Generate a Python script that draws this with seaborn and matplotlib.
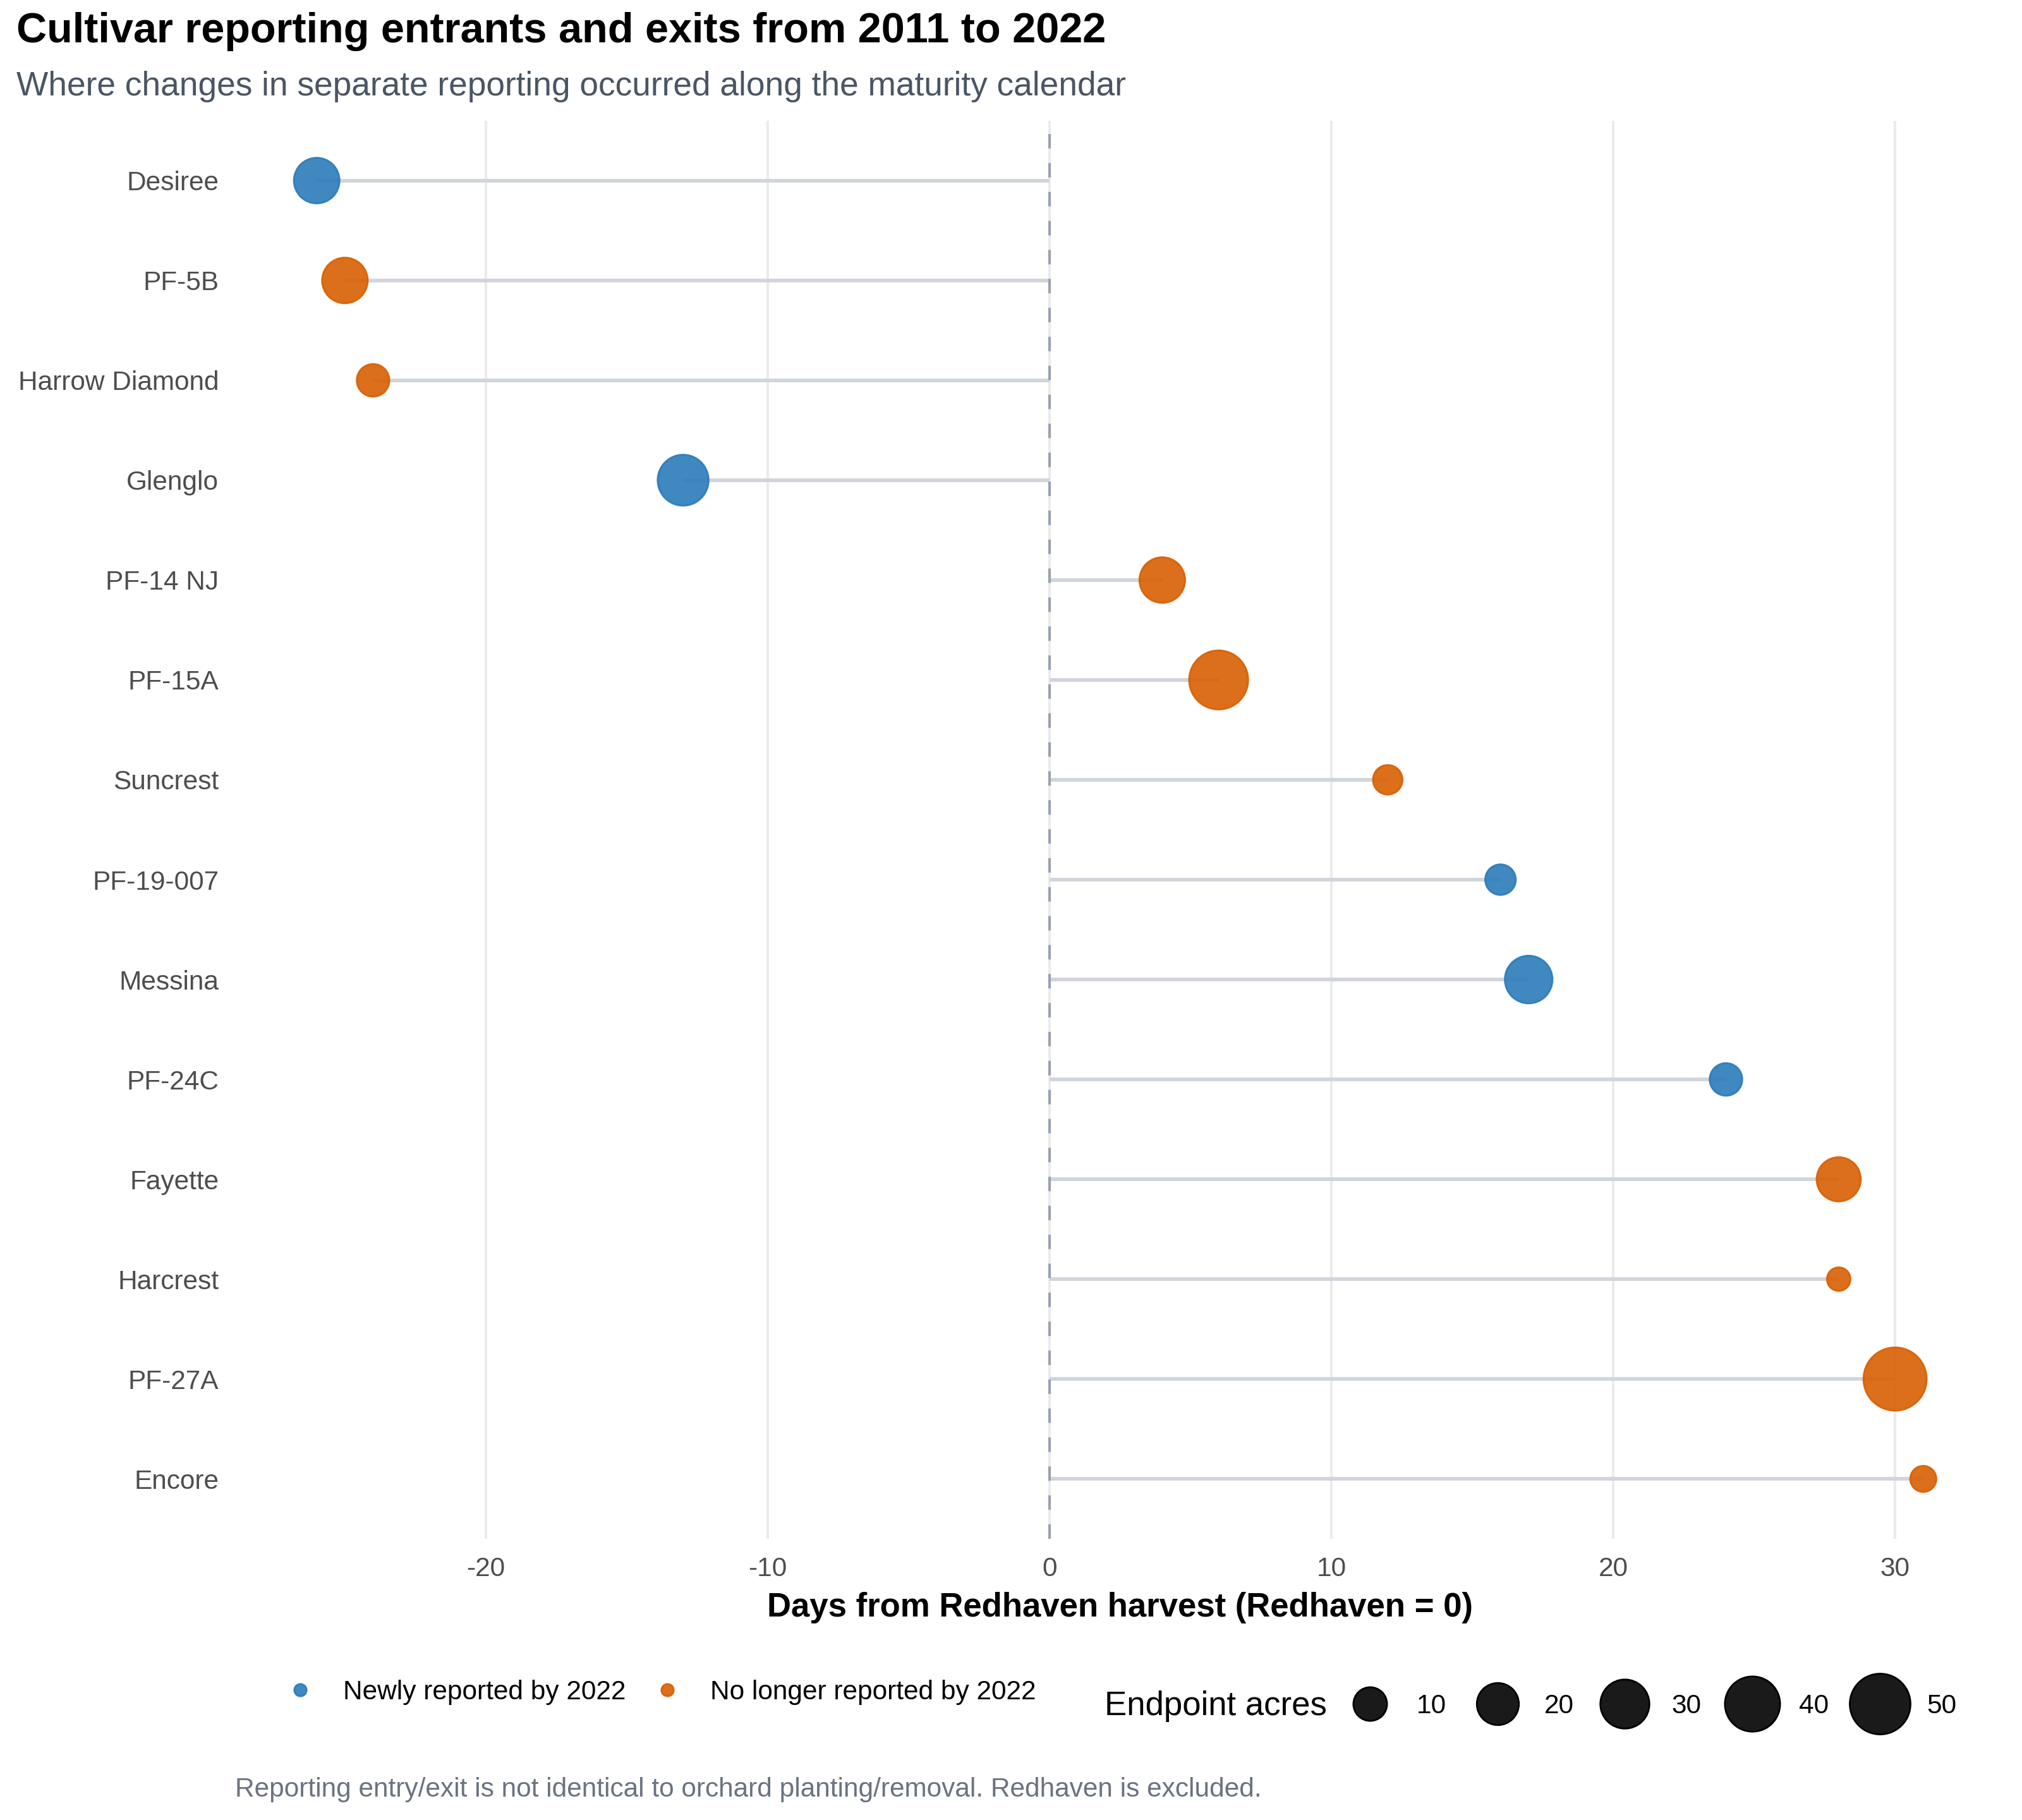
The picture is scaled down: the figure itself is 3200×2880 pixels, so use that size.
import matplotlib
matplotlib.use("Agg")
import matplotlib.pyplot as plt
from matplotlib.lines import Line2D
import numpy as np
import pandas as pd
import seaborn as sns

# Data (top to bottom)
cultivars = ["Desiree", "PF-5B", "Harrow Diamond", "Glenglo", "PF-14 NJ", "PF-15A",
             "Suncrest", "PF-19-007", "Messina", "PF-24C", "Fayette", "Harcrest",
             "PF-27A", "Encore"]
days = [-26, -25, -24, -13, 4, 6, 12, 16, 17, 24, 28, 28, 30, 31]
acres = [25, 25, 9, 33, 25, 47, 6, 7, 28, 9, 23, 1, 55, 3]
NEW = "Newly reported by 2022"
OLD = "No longer reported by 2022"
status = [NEW, OLD, OLD, NEW, OLD, OLD, OLD, NEW, NEW, NEW, OLD, OLD, OLD, OLD]
size_breaks = [10, 20, 30, 40, 50]
x_ticks = [-20, -10, 0, 10, 20, 30]

palette = {NEW: "#2b7bba", OLD: "#d95f02"}

# marker area (pt^2) grows linearly with acres
S0, S1, VMAX = 160.0, 1400.0, 60.0
FS = 15.25


def area(v):
    return S0 + (S1 - S0) * v / VMAX


df = pd.DataFrame({"cultivar": cultivars, "days": days, "acres": acres, "status": status})

sns.set_theme(style="white")
plt.rcParams["font.family"] = ["Liberation Sans", "DejaVu Sans"]
plt.rcParams["text.color"] = "black"

fig = plt.figure(figsize=(16, 14.4), dpi=200)
ax = fig.add_axes([0.1169, 0.1545, 0.874, 0.7792])

ax.hlines(y=df["cultivar"], xmin=0, xmax=df["days"], color="#d1d5db", lw=2.1, zorder=1)
sns.scatterplot(data=df, x="days", y="cultivar", hue="status", size="acres",
                palette=palette, sizes=(S0, S1), size_norm=(0, VMAX),
                alpha=0.9, linewidth=1.0, legend=False, ax=ax, zorder=3)
for c in ax.collections[-1:]:
    c.set_edgecolor([palette[s] for s in status])
ax.axvline(0, color="#9aa1b1", lw=1.5, ls=(0, (5.5, 5.5)), zorder=2)

ax.set_xlim(-28.85, 33.85)
ax.set_ylim(len(cultivars) - 0.4, -0.6)
ax.set_xticks(x_ticks)
ax.set_xticklabels([f"{t}" for t in x_ticks])
ax.grid(axis="x", color="#ebebeb", lw=1.5, zorder=0)
ax.grid(axis="y", visible=False)
ax.set_axisbelow(True)
for sp in ax.spines.values():
    sp.set_visible(False)
ax.tick_params(axis="both", length=0, labelsize=FS, labelcolor="#4d4d4d", pad=10)
ax.set_ylabel("")
ax.set_xlabel("Days from Redhaven harvest (Redhaven = 0)", fontsize=19,
              fontweight="bold", color="black", labelpad=6)

# titles and caption
fig.text(0.008, 1 - 67 / 2880, "Cultivar reporting entrants and exits from 2011 to 2022",
         fontsize=24, fontweight="bold", color="black", va="baseline", ha="left")
fig.text(0.008, 1 - 151 / 2880,
         "Where changes in separate reporting occurred along the maturity calendar",
         fontsize=19.2, color="#4b5563", va="baseline", ha="left")
fig.text(0.1163, 1 - 2832 / 2880,
         "Reporting entry/exit is not identical to orchard planting/removal. Redhaven is excluded.",
         fontsize=FS, color="#6b7280", va="center", ha="left")

# colour legend
hue_handles = [Line2D([], [], ls="", marker="o", markersize=7, alpha=0.9,
                      markerfacecolor=palette[k], markeredgecolor=palette[k])
               for k in (NEW, OLD)]
fig.legend(hue_handles, [NEW, OLD], loc="center left",
           bbox_to_anchor=(454 / 3200, 1 - 2678 / 2880), ncol=2, frameon=False,
           fontsize=FS, handlelength=1.0, handletextpad=1.1, columnspacing=1.05,
           borderpad=0, borderaxespad=0, labelcolor="black")

# size legend
fig.text(1748 / 3200, 1 - 2700 / 2880, "Endpoint acres", fontsize=19, color="black",
         va="center", ha="left")
size_handles = [Line2D([], [], ls="", marker="o", markersize=np.sqrt(area(v)),
                       markerfacecolor="#1a1a1a", markeredgecolor="black",
                       markeredgewidth=1.0)
                for v in size_breaks]
fig.legend(size_handles, [str(v) for v in size_breaks], loc="center left",
           bbox_to_anchor=(2113 / 3200, 1 - 2700 / 2880), ncol=5, frameon=False,
           fontsize=FS, handlelength=2.6, handletextpad=0.45, columnspacing=0.6,
           borderpad=0, borderaxespad=0, labelcolor="black")

fig.savefig("out.png", dpi=200)
